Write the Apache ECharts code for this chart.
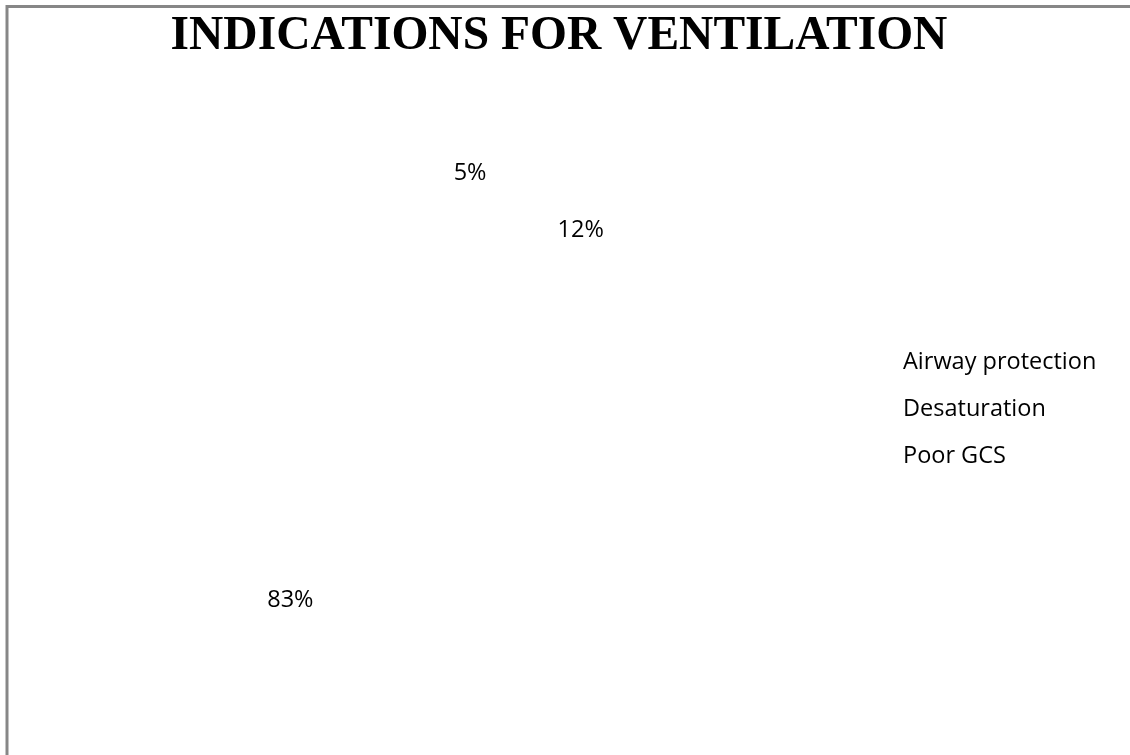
<!DOCTYPE html>
<html>
<head>
<meta charset="utf-8">
<script src="https://cdn.jsdelivr.net/npm/echarts@6/dist/echarts.min.js"></script>
<style>
  html, body { margin: 0; padding: 0; background: #ffffff; }
  #chart { width: 1130px; height: 755px; }
</style>
</head>
<body>
<div id="chart"></div>
<script>
const titleText = 'INDICATIONS FOR VENTILATION';
const categories = ['Airway protection', 'Desaturation', 'Poor GCS'];
const values = [83, 12, 5];

const chart = echarts.init(document.getElementById('chart'), null, { renderer: 'canvas' });

const pieData = categories.map((name, i) => ({ name: name, value: values[i] }));

chart.setOption({
  backgroundColor: '#ffffff',
  animation: false,
  title: {
    text: titleText,
    left: 554,
    textAlign: 'center',
    top: 8,
    textStyle: {
      fontFamily: 'Liberation Serif',
      fontWeight: 'bold',
      fontSize: 47.5,
      color: '#000000'
    }
  },
  legend: {
    orient: 'vertical',
    left: 885,
    top: 345,
    itemWidth: 8,
    itemHeight: 14,
    itemGap: 22,
    icon: 'rect',
    itemStyle: { opacity: 0 },
    textStyle: {
      fontFamily: 'Open Sans',
      fontSize: 23.5,
      lineHeight: 25,
      color: '#000000'
    },
    data: categories
  },
  graphic: [
    {
      type: 'polyline',
      shape: { points: [[7, 755], [7, 6.5], [1130, 6.5]] },
      style: { stroke: '#878787', lineWidth: 3, fill: null },
      silent: true
    }
  ],
  series: [
    {
      type: 'pie',
      center: [421, 404],
      radius: [166, 300],
      startAngle: 87,
      clockwise: false,
      itemStyle: { color: 'rgba(255,255,255,0)', borderWidth: 0 },
      emphasis: { disabled: true },
      label: {
        show: true,
        position: 'inside',
        formatter: '{c}%',
        fontFamily: 'Open Sans',
        fontSize: 23.5,
        color: '#000000'
      },
      labelLine: { show: false },
      data: pieData
    }
  ]
});
</script>
</body>
</html>
